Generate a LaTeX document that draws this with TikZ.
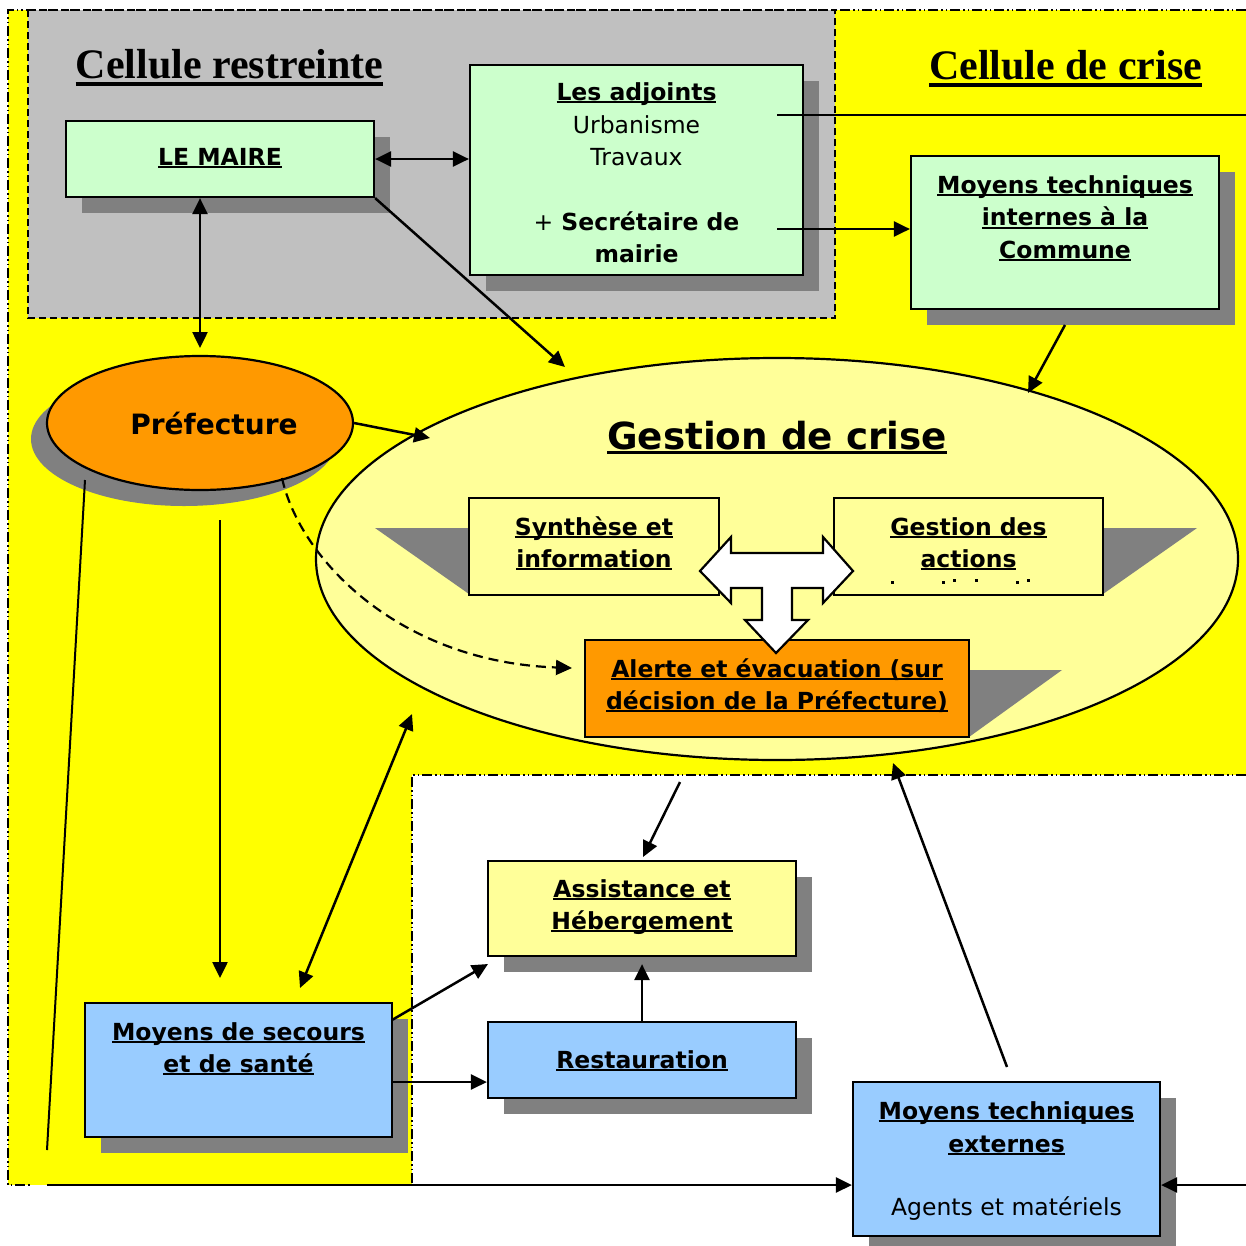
\documentclass[tikz,border=0pt]{standalone}
\usepackage{fontspec}
\setmainfont{DejaVu Sans}
\newfontfamily\ttlfont{Liberation Serif}
\usetikzlibrary{arrows.meta,shadows,calc,shapes.geometric}
\definecolor{cyel}{HTML}{FFFF00}
\definecolor{cgray}{HTML}{C0C0C0}
\definecolor{cshadow}{HTML}{808080}
\definecolor{cgreen}{HTML}{CCFFCC}
\definecolor{clyel}{HTML}{FFFF99}
\definecolor{corange}{HTML}{FF9900}
\definecolor{cblue}{HTML}{99CCFF}
\newcommand\ulx[1]{\setbox0\hbox{#1}\rlap{\rule[-0.13em]{\wd0}{0.085em}}\box0}
\newcommand\ult[1]{\setbox0\hbox{#1}\rlap{\rule[-0.2em]{\wd0}{0.105em}}\box0}
\begin{document}
\begin{tikzpicture}[x=1pt,y=-1pt,
  box/.style={draw=black, line width=2.2pt, inner sep=0pt,
    drop shadow={shadow xshift=16pt, shadow yshift=-16pt, opacity=1, fill=cshadow}},
  txt/.style={anchor=base, inner sep=0pt, font=\fontsize{23.5}{28}\selectfont\bfseries},
  txtr/.style={anchor=base, inner sep=0pt, font=\fontsize{23.5}{28}\selectfont},
  ttl/.style={anchor=base, inner sep=0pt, font=\ttlfont\fontsize{42}{50}\selectfont\bfseries},
  arr/.style={line width=2.5pt, -{Triangle[length=16pt,width=15pt]}},
  arrb/.style={line width=2.5pt, {Triangle[length=16pt,width=15pt]}-{Triangle[length=16pt,width=15pt]}},
  thin/.style={line width=2pt},
  dashdotdot/.style={line width=1.6pt, dash pattern=on 10pt off 3pt on 1.5pt off 3pt on 1.5pt off 3pt},
  grayborder/.style={line width=1.6pt, dash pattern=on 7pt off 4pt},
  tri/.style={fill=cshadow}
]
\useasboundingbox (0,0) rectangle (1246,1245);

% backgrounds
\fill[cyel] (8,10) rectangle (1246,775);
\fill[cyel] (8,775) rectangle (412,1185);
\fill[cgray] (28,10) rectangle (835,318);
\draw[grayborder] (28,10) rectangle (835,318);
\draw[dashdotdot] (1246,10) -- (8,10) -- (8,1185) -- (30,1185);
\draw[dashdotdot] (1246,775) -- (412,775) -- (412,1185);

% titles
\node[ttl] (tRestr) at (229.5,78) {\ult{Cellule restreinte}};
\node[ttl] (tCrise) at (1065.5,79) {\ult{Cellule de crise}};

% big ellipse
\node[draw=black, line width=2.2pt, fill=clyel, ellipse, minimum width=922pt, minimum height=402pt, inner sep=0pt] (gest) at (777,559) {};
\node[anchor=base, inner sep=0pt, font=\fontsize{37.3}{44}\selectfont\bfseries] (gestT) at (777,449) {\ulx{Gestion de crise}};

% perspective shadows
\fill[tri] (375,528) -- (469,528) -- (469,594) -- cycle;
\fill[tri] (1103,528) -- (1197,528) -- (1103,594) -- cycle;
\fill[tri] (969,670) -- (1062,670) -- (969,737) -- cycle;

% inner boxes
\node[draw=black, line width=2.2pt, fill=clyel, minimum width=250pt, minimum height=97pt, inner sep=0pt] (synth) at (594,546.5) {};
\node[draw=black, line width=2.2pt, fill=clyel, minimum width=269pt, minimum height=97pt, inner sep=0pt] (gact) at (968.5,546.5) {};
\node[draw=black, line width=2.2pt, fill=corange, minimum width=384pt, minimum height=97pt, inner sep=0pt] (alerte) at (777,688.5) {};
\node[txt] (synthA) at (594,535) {\ulx{Synthèse et}};
\node[txt] (synthB) at (594,567) {\ulx{information}};
\node[txt] (gactA) at (968.5,535) {\ulx{Gestion des}};
\node[txt] (gactB) at (968.5,567) {\ulx{actions}};
\foreach \px/\py in {890.5/580.5, 941.5/580.5, 952.5/578.5, 974.5/578.5, 1015.5/580.5, 1026.5/578.5}
  \fill (\px,\py) rectangle ++(3,3);
\node[txt] (alerteA) at (777,677) {\ulx{Alerte et évacuation (sur}};
\node[txt] (alerteB) at (777,709) {\ulx{décision de la Préfecture)}};

% T block arrow
\draw[line width=2.2pt, fill=white, line join=miter]
  (700,571) -- (731,537) -- (731,553) -- (823,553) -- (823,537) -- (853,571)
  -- (823,603) -- (823,588) -- (792,588) -- (792,620) -- (808,620) -- (776,653)
  -- (745,620) -- (762,620) -- (762,588) -- (731,588) -- (731,603) -- cycle;

% green boxes
\node[box, fill=cgreen, minimum width=308pt, minimum height=76pt] (maire) at (220,159) {};
\node[txt] (maireT) at (220,165) {\ulx{LE MAIRE}};
\node[box, fill=cgreen, minimum width=333pt, minimum height=210pt] (adj) at (636.5,170) {};
\node[txt] (adjA) at (636.5,100) {\ulx{Les adjoints}};
\node[txtr] (adjB) at (636.5,133) {Urbanisme};
\node[txtr] (adjC) at (636.5,165) {Travaux};
\node[txt] (adjD) at (636.5,230) {{\mdseries +} Secrétaire de};
\node[txt] (adjE) at (636.5,262) {mairie};
\node[box, fill=cgreen, minimum width=308pt, minimum height=153pt] (mti) at (1065,232.5) {};
\node[txt] (mtiA) at (1065,193) {\ulx{Moyens techniques}};
\node[txt] (mtiB) at (1065,225.5) {\ulx{internes à la}};
\node[txt] (mtiC) at (1065,258) {\ulx{Commune}};

% prefecture
\node[draw=black, line width=2.2pt, fill=corange, ellipse, minimum width=306pt, minimum height=134pt, inner sep=0pt,
  drop shadow={shadow xshift=-16pt, shadow yshift=-16pt, opacity=1, fill=cshadow}] (pref) at (200,423) {};
\node[anchor=base, inner sep=0pt, font=\fontsize{28}{32}\selectfont\bfseries] (prefT) at (214,434) {Préfecture};

% lower boxes
\node[box, fill=clyel, minimum width=308pt, minimum height=95pt] (assist) at (642,908.5) {};
\node[txt] (assistA) at (642,897) {\ulx{Assistance et}};
\node[txt] (assistB) at (642,929) {\ulx{Hébergement}};
\node[box, fill=cblue, minimum width=308pt, minimum height=76pt] (resto) at (642,1060) {};
\node[txt] (restoT) at (642,1068) {\ulx{Restauration}};
\node[box, fill=cblue, minimum width=307pt, minimum height=134pt] (secours) at (238.5,1070) {};
\node[txt] (secoursA) at (238.5,1040) {\ulx{Moyens de secours}};
\node[txt] (secoursB) at (238.5,1072) {\ulx{et de santé}};
\node[box, fill=cblue, minimum width=307pt, minimum height=154pt] (mte) at (1006.5,1159) {};
\node[txt] (mteA) at (1006.5,1119) {\ulx{Moyens techniques}};
\node[txt] (mteB) at (1006.5,1152) {\ulx{externes}};
\node[txtr] (mteC) at (1006.5,1215) {Agents et matériels};

% free ends
\coordinate (pM) at (200,348);
\coordinate (g1) at (565,367);
\coordinate (a1) at (777,115);
\coordinate (edgeR1) at (1246,115);
\coordinate (a2) at (777,229);
\coordinate (m1) at (1065,325);
\coordinate (g2) at (1028,393);
\coordinate (g3) at (430,438);
\coordinate (p1) at (282,478);
\coordinate (al1) at (572,668);
\coordinate (p2) at (220,520);
\coordinate (s1) at (220,978);
\coordinate (s2) at (300,988);
\coordinate (g4) at (412,714);
\coordinate (p3) at (85,480);
\coordinate (p4) at (47,1150);
\coordinate (bl) at (47,1185);
\coordinate (br) at (1246,1185);
\coordinate (s3) at (392,1020);
\coordinate (as1) at (488,964);
\coordinate (s4) at (392,1082);
\coordinate (g5) at (680,782);
\coordinate (as2) at (643,857);
\coordinate (e1) at (1007,1067);
\coordinate (g6) at (893,763);

% connectors
\draw[arrb] (maire.east) -- (maire.east -| adj.west);
\draw[arrb] (maire.south -| pM) -- (pM);
\draw[arr] (maire.south east) -- (g1);
\draw[thin] (a1) -- (edgeR1);
\draw[arr] (a2) -- (a2 -| mti.west);
\draw[arr] (m1) -- (g2);
\draw[arr] (pref.east) -- (g3);
\draw[line width=2.2pt, dash pattern=on 10pt off 6pt, -{Triangle[length=16pt,width=15pt]}]
  (p1) .. controls (300,560) and (400,662) .. (al1);
\draw[arr] (p2) -- (s1);
\draw[arrb] (s2) -- (g4);
\draw[thin] (p3) -- (p4);
\draw[arr] (bl) -- (bl -| mte.west);
\draw[arr] (br) -- (br -| mte.east);
\draw[arr] (s3) -- (as1);
\draw[arr] (s4) -- (s4 -| resto.west);
\draw[arr] (resto.north) -- ($(assist.south)+(0,7)$);
\draw[arr] (g5) -- (as2);
\draw[arr] (e1) -- (g6);
\end{tikzpicture}
\end{document}
